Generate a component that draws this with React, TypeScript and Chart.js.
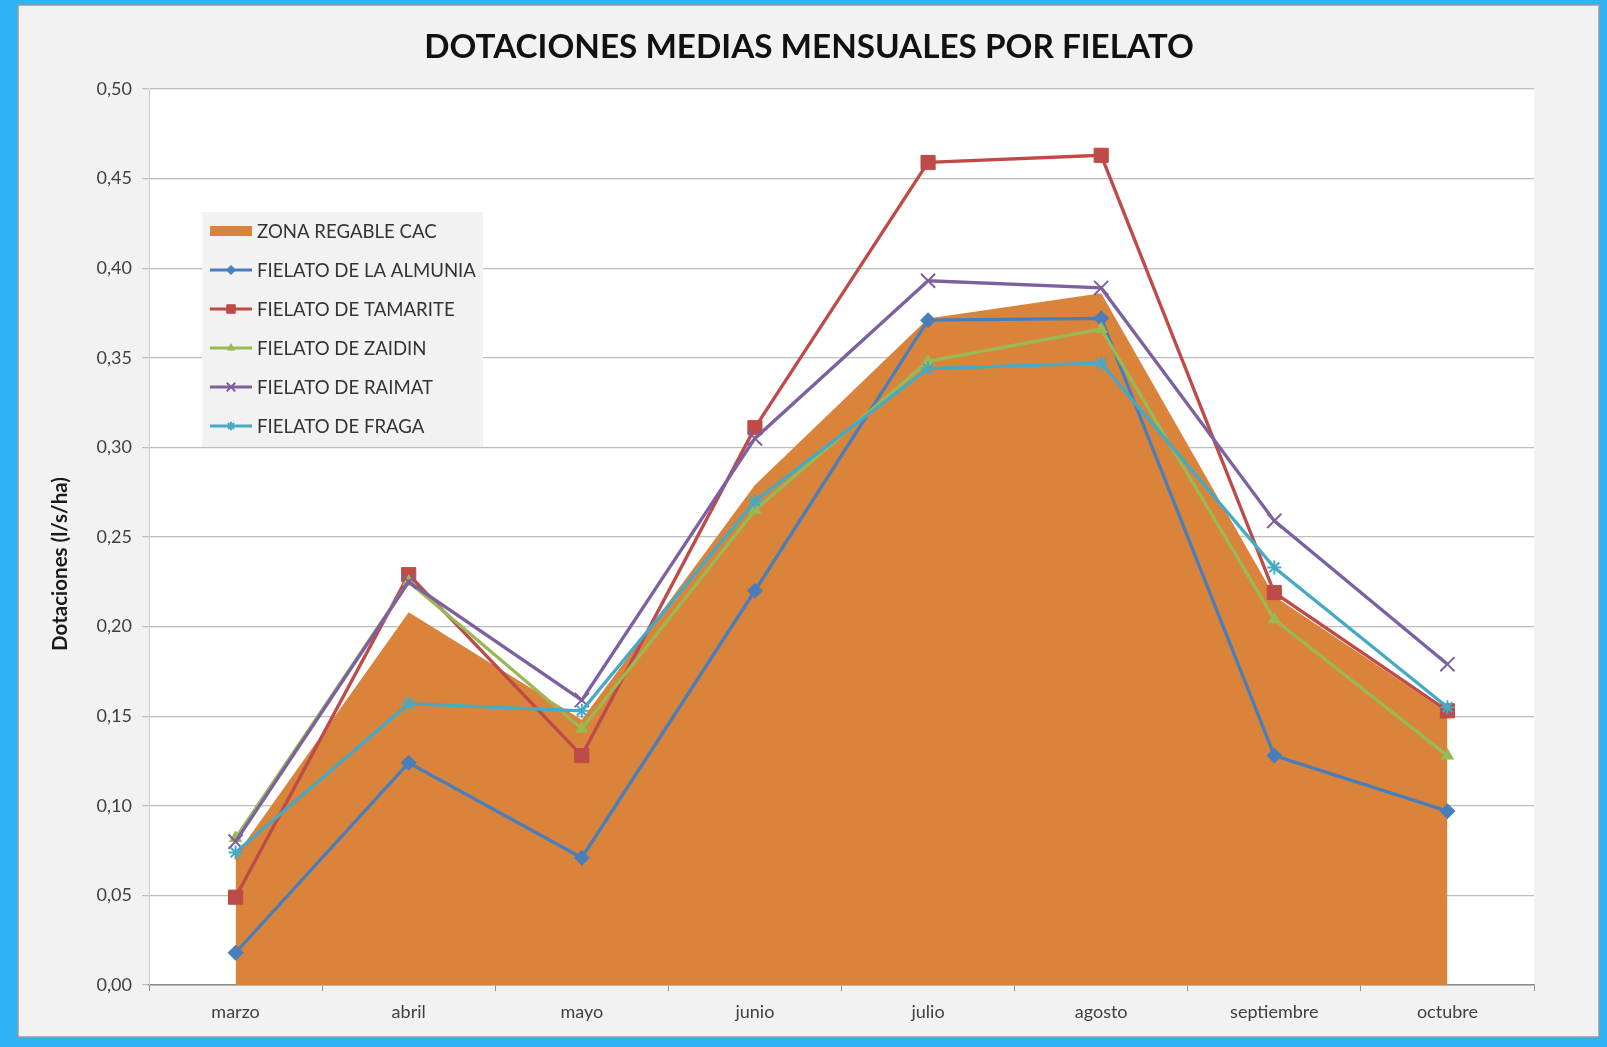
import React, { useEffect, useRef } from "react";
import { Chart, registerables } from "chart.js";
import { drawPoint } from "chart.js/helpers";

Chart.register(...registerables);

const chartTitle = "DOTACIONES MEDIAS MENSUALES POR FIELATO";
const yAxisTitle = "Dotaciones (l/s/ha)";
const categories = ["marzo", "abril", "mayo", "junio", "julio", "agosto", "septiembre", "octubre"];
const yTickLabels = ["0,00", "0,05", "0,10", "0,15", "0,20", "0,25", "0,30", "0,35", "0,40", "0,45", "0,50"];

const zonaRegable = [0.072, 0.208, 0.148, 0.279, 0.372, 0.386, 0.217, 0.152];
const almunia = [0.018, 0.124, 0.071, 0.220, 0.371, 0.372, 0.128, 0.097];
const tamarite = [0.049, 0.229, 0.128, 0.311, 0.459, 0.463, 0.219, 0.153];
const zaidin = [0.082, 0.225, 0.143, 0.265, 0.348, 0.366, 0.204, 0.128];
const raimat = [0.080, 0.225, 0.159, 0.305, 0.393, 0.389, 0.259, 0.179];
const fraga = [0.074, 0.157, 0.153, 0.270, 0.344, 0.347, 0.233, 0.155];

const seriesNames = [
  "ZONA REGABLE CAC",
  "FIELATO DE LA ALMUNIA",
  "FIELATO DE TAMARITE",
  "FIELATO DE ZAIDIN",
  "FIELATO DE RAIMAT",
  "FIELATO DE FRAGA",
];

const FONT = "Lato, 'Open Sans', sans-serif";

function fitSize(ctx: CanvasRenderingContext2D, text: string, weight: string, target: number) {
  ctx.font = `${weight} 100px ${FONT}`;
  const w = ctx.measureText(text).width;
  return (100 * target) / w;
}

const decorPlugin = {
  id: "decor",
  beforeDraw(chart: any) {
    const { ctx, chartArea } = chart;
    ctx.save();
    ctx.fillStyle = "#2EB3F6";
    ctx.fillRect(0, 0, chart.width, chart.height);
    ctx.fillStyle = "#F2F2F2";
    ctx.fillRect(18, 5, 1581, 1032);
    ctx.strokeStyle = "#9A9A9A";
    ctx.lineWidth = 1.5;
    ctx.strokeRect(18, 5, 1581, 1032);
    ctx.fillStyle = "#FFFFFF";
    ctx.fillRect(chartArea.left, chartArea.top, chartArea.right - chartArea.left, chartArea.bottom - chartArea.top);
    ctx.restore();
  },
  afterDraw(chart: any) {
    const { ctx } = chart;
    ctx.save();
    // Title
    const ts = fitSize(ctx, chartTitle, "bold", 770);
    ctx.font = `bold ${ts}px ${FONT}`;
    ctx.fillStyle = "#111111";
    ctx.textAlign = "center";
    ctx.textBaseline = "middle";
    ctx.fillText(chartTitle, 809, 47);

    // Y axis title
    const ys = fitSize(ctx, yAxisTitle, "bold", 174);
    ctx.save();
    ctx.translate(60, 564);
    ctx.rotate(-Math.PI / 2);
    ctx.font = `bold ${ys}px ${FONT}`;
    ctx.fillStyle = "#1A1A1A";
    ctx.fillText(yAxisTitle, 0, 0);
    ctx.restore();

    // Legend
    ctx.fillStyle = "#F2F2F2";
    ctx.fillRect(202, 212, 281, 235);
    const ls = fitSize(ctx, "FIELATO DE LA ALMUNIA", "normal", 219);
    ctx.font = `normal ${ls}px ${FONT}`;
    ctx.textAlign = "left";
    ctx.textBaseline = "middle";
    const datasets = chart.data.datasets;
    for (let i = 0; i < datasets.length; i++) {
      const ds = datasets[i];
      const y = 231 + i * 39;
      if (i === 0) {
        ctx.fillStyle = ds.backgroundColor;
        ctx.fillRect(210, y - 5, 42, 10);
      } else {
        ctx.strokeStyle = ds.borderColor;
        ctx.lineWidth = 3;
        ctx.beginPath();
        ctx.moveTo(210, y);
        ctx.lineTo(252, y);
        ctx.stroke();
        ctx.fillStyle = ds.pointBackgroundColor;
        ctx.strokeStyle = ds.pointBorderColor;
        ctx.lineWidth = ds.pointBorderWidth;
        drawPoint(ctx, { pointStyle: ds.pointStyle, radius: ds.pointRadius * 0.6, rotation: 0, borderWidth: ds.pointBorderWidth }, 231, y);
      }
      ctx.fillStyle = "#333333";
      ctx.fillText(ds.label, 257, y + 1);
    }
    ctx.restore();
  },
};

function lineDs(label: string, data: number[], color: string, style: string, radius: number, bw: number, order: number) {
  return {
    type: "line",
    label,
    data,
    borderColor: color,
    backgroundColor: color,
    borderWidth: 3.3,
    pointStyle: style,
    pointRadius: radius,
    pointBackgroundColor: color,
    pointBorderColor: color,
    pointBorderWidth: bw,
    fill: false,
    tension: 0,
    order,
  };
}

export default function App() {
  const ref = useRef<HTMLCanvasElement>(null);
  useEffect(() => {
    if (!ref.current) return;
    const chart = new Chart(ref.current, {
      type: "line",
      data: {
        labels: categories,
        datasets: [
          {
            type: "line",
            label: seriesNames[0],
            data: zonaRegable,
            borderWidth: 0,
            borderColor: "#DA843B",
            backgroundColor: "#DA843B",
            pointRadius: 0,
            fill: "origin",
            tension: 0,
            order: 10,
          },
          lineDs(seriesNames[1], almunia, "#4A7EBB", "rectRot", 7.5, 1, 5),
          lineDs(seriesNames[2], tamarite, "#BE4B48", "rect", 10, 1, 4),
          lineDs(seriesNames[3], zaidin, "#98B954", "triangle", 7, 1, 3),
          lineDs(seriesNames[4], raimat, "#7D60A0", "crossRot", 10, 2, 2),
          lineDs(seriesNames[5], fraga, "#46AAC5", "star", 7, 2, 1),
        ] as any,
      },
      options: {
        responsive: false,
        animation: false,
        layout: { padding: { left: 0, top: 89, right: 73, bottom: 0 } },
        plugins: { legend: { display: false }, title: { display: false }, tooltip: { enabled: false } },
        scales: {
          x: {
            type: "category",
            offset: true,
            grid: { display: true, drawOnChartArea: false, drawTicks: true, tickLength: 6, color: "#8C8C8C", offset: true },
            border: { display: true, color: "#8C8C8C", width: 1.5 },
            ticks: { color: "#404040", font: { family: FONT, size: 18 }, padding: 10, maxRotation: 0 },
            afterFit(scale: any) { scale.height = 62; },
          },
          y: {
            min: 0,
            max: 0.5,
            ticks: {
              stepSize: 0.05,
              color: "#404040",
              font: { family: FONT, size: 18 },
              padding: 10,
              callback: (_v: any, i: number) => yTickLabels[i],
            },
            grid: { color: "#BDBDBD", lineWidth: 1.2, tickLength: 7 },
            border: { display: true, color: "#D0D0D0" },
            afterFit(scale: any) { scale.width = 149; },
          },
        },
      },
      plugins: [decorPlugin],
    } as any);
    return () => chart.destroy();
  }, []);
  return (
    <div style={{ position: "fixed", left: 0, top: 0, width: 1607, height: 1047 }}>
      <canvas ref={ref} width={1607} height={1047} style={{ width: 1607, height: 1047, display: "block" }} />
    </div>
  );
}
